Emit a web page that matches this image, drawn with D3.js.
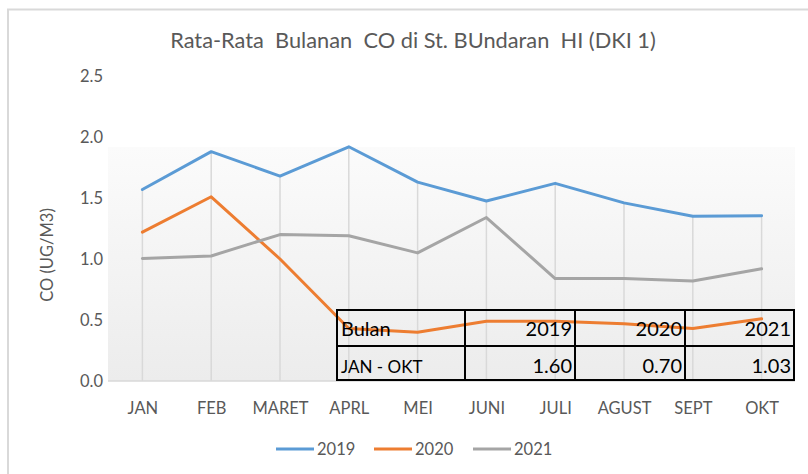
<!DOCTYPE html>
<html><head><meta charset="utf-8">
<script src="https://cdn.jsdelivr.net/npm/d3@7"></script>
<style>body{margin:0;background:#fff}svg{display:block}text{font-family:Lato,"Open Sans",sans-serif}</style>
</head><body><svg id="c" width="808" height="474"></svg>
<script>
const categories = ["JAN","FEB","MARET","APRL","MEI","JUNI","JULI","AGUST","SEPT","OKT"];
const s2019 = [1.57,1.88,1.68,1.92,1.63,1.475,1.62,1.46,1.35,1.355];
const s2020 = [1.22,1.51,1.00,0.43,0.40,0.49,0.49,0.47,0.43,0.51];
const s2021 = [1.005,1.025,1.20,1.19,1.05,1.34,0.84,0.84,0.82,0.92];
const seriesNames = ["2019","2020","2021"];
const yTicks = [0,0.5,1.0,1.5,2.0,2.5];
const tableHeader = ["Bulan","2019","2020","2021"];
const tableRow = ["JAN - OKT","1.60","0.70","1.03"];

const colors = ["#5B9BD5","#ED7D31","#A5A5A5"];
const series = [s2019,s2020,s2021];
const svg = d3.select("#c");

// chart border
svg.append("path").attr("d","M8,480 L8,9.5 L820,9.5").attr("fill","none").attr("stroke","#d9d9d9").attr("stroke-width",2);

const x = d3.scalePoint().domain(categories).range([108,796]).padding(0.5);
const y = d3.scaleLinear().domain([0,2.5]).range([381,76]);

// plot panel gradient
const defs = svg.append("defs");
const g = defs.append("linearGradient").attr("id","bg").attr("x1",0).attr("y1",0).attr("x2",0).attr("y2",1);
g.append("stop").attr("offset","0%").attr("stop-color","#fbfbfb");
g.append("stop").attr("offset","100%").attr("stop-color","#ececec");
svg.append("rect").attr("x",108).attr("y",147).attr("width",687).attr("height",y(0)-147).attr("fill","url(#bg)");

// title
svg.append("text").attr("x",413).attr("y",48).attr("text-anchor","middle").attr("font-size",21.8)
  .attr("fill","#595959").style("white-space","pre").text("Rata-Rata  Bulanan  CO di St. BUndaran  HI (DKI 1)");

// y axis labels
const yAxis = d3.axisLeft(y).tickValues(yTicks).tickFormat(d3.format(".1f")).tickSize(0).tickPadding(0);
const ya = svg.append("g").attr("transform","translate(103,0)").call(yAxis);
ya.select(".domain").remove();
ya.selectAll("text").attr("font-size",16.5).attr("fill","#595959").attr("font-family","Lato,'Open Sans',sans-serif").attr("dy","0.35em");

svg.append("text").attr("transform","translate(53,255) rotate(-90)").attr("text-anchor","middle")
  .attr("font-size",16.5).attr("fill","#595959").text("CO (UG/M3)");

// drop lines
categories.forEach((c,i)=>{
  const mx = d3.max(series, s=>s[i]);
  svg.append("line").attr("x1",x(c)).attr("x2",x(c)).attr("y1",y(mx)).attr("y2",y(0))
    .attr("stroke","#d9d9d9").attr("stroke-width",1.5);
});
// baseline
svg.append("line").attr("x1",108).attr("x2",795).attr("y1",y(0)).attr("y2",y(0)).attr("stroke","#d9d9d9").attr("stroke-width",1.5);

// x axis labels
const xAxis = d3.axisBottom(x).tickSize(0).tickPadding(0);
const xa = svg.append("g").attr("transform","translate(0,"+y(0)+")").call(xAxis);
xa.select(".domain").remove();
xa.selectAll("text").attr("font-size",16.5).attr("fill","#595959").attr("font-family","Lato,'Open Sans',sans-serif").attr("dy","0").attr("y",33);

// lines
const line = d3.line().x((d,i)=>x(categories[i])).y(d=>y(d));
series.forEach((s,k)=>{
  svg.append("path").datum(s).attr("d",line).attr("fill","none").attr("stroke",colors[k])
    .attr("stroke-width",3).attr("stroke-linejoin","round").attr("stroke-linecap","round");
});

// legend
const legX = [276,374,473];
seriesNames.forEach((n,k)=>{
  svg.append("line").attr("x1",legX[k]).attr("x2",legX[k]+38).attr("y1",449).attr("y2",449)
    .attr("stroke",colors[k]).attr("stroke-width",3);
  svg.append("text").attr("x",legX[k]+41).attr("y",455).attr("font-size",16.5).attr("fill","#595959").text(n);
});

// table overlay
const colX = [337,465,575,685,794];
const rowY = [310,346,380];
const tg = svg.append("g");
tg.append("rect").attr("x",colX[0]).attr("y",rowY[0]).attr("width",colX[4]-colX[0]).attr("height",rowY[2]-rowY[0])
  .attr("fill","none").attr("stroke","#000").attr("stroke-width",2);
tg.append("line").attr("x1",colX[0]).attr("x2",colX[4]).attr("y1",rowY[1]).attr("y2",rowY[1]).attr("stroke","#000").attr("stroke-width",2);
colX.slice(1,4).forEach(cx=>tg.append("line").attr("x1",cx).attr("x2",cx).attr("y1",rowY[0]).attr("y2",rowY[2]).attr("stroke","#000").attr("stroke-width",2));
[tableHeader, tableRow].forEach((row,r)=>{
  row.forEach((t,c)=>{
    const isFirst = c===0;
    tg.append("text")
      .attr("x", isFirst ? colX[0]+4 : colX[c+1]-3)
      .attr("y", rowY[r]+ (r===0?26:27))
      .attr("text-anchor", isFirst ? "start":"end")
      .attr("font-size", isFirst ? (r===0?20:17) : 20)
      .attr("fill","#000").text(t);
  });
});
</script></body></html>
